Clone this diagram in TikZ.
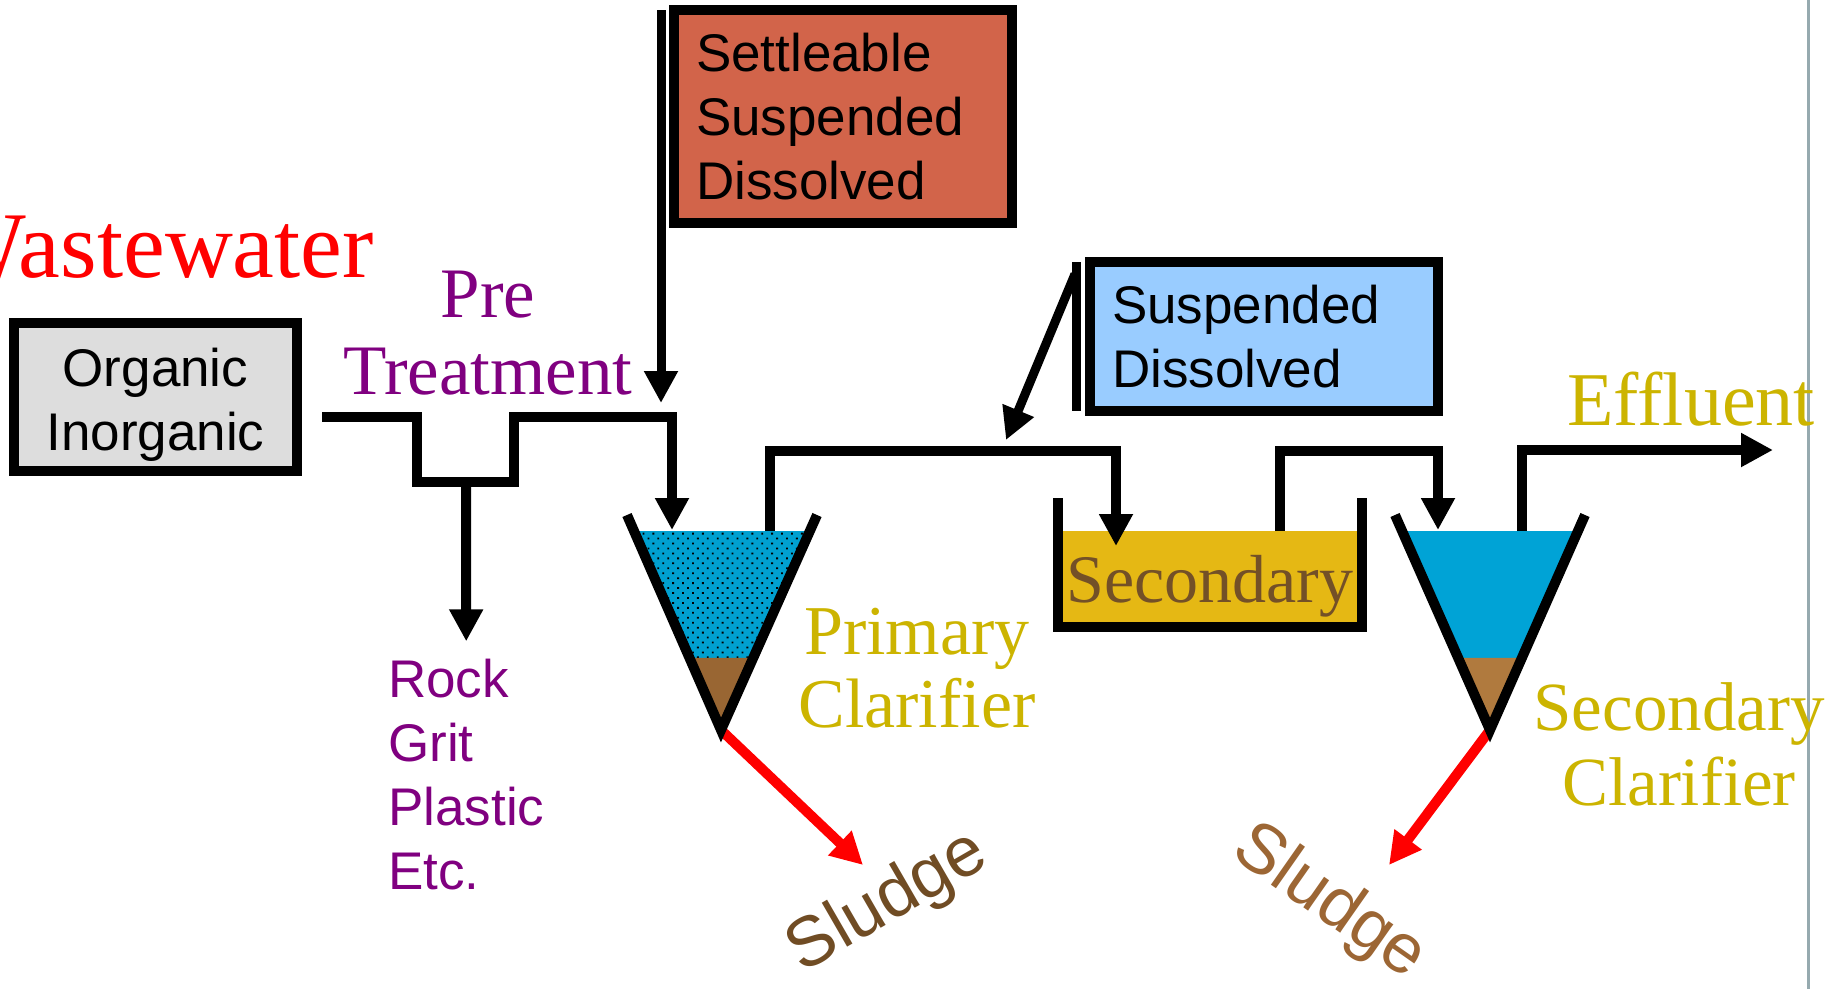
\documentclass[tikz,border=0pt]{standalone}
\usepackage{fontspec}
\setmainfont{Liberation Serif}
\setsansfont{Liberation Sans}
\usepackage{xcolor}
\usetikzlibrary{arrows.meta,calc,patterns.meta}
\definecolor{boxgray}{RGB}{221,221,221}
\definecolor{brick}{RGB}{210,100,74}
\definecolor{sky}{RGB}{153,204,255}
\definecolor{water}{RGB}{0,160,208}
\definecolor{water2}{RGB}{0,163,214}
\definecolor{sedim}{RGB}{153,102,51}
\definecolor{sedim2}{RGB}{176,122,62}
\definecolor{gold}{RGB}{229,184,20}
\definecolor{goldtext}{RGB}{204,180,0}
\definecolor{tanktext}{RGB}{115,80,39}
\definecolor{mudA}{RGB}{112,76,36}
\definecolor{mudB}{RGB}{156,102,52}
\definecolor{plum}{RGB}{128,0,128}
\definecolor{edgegray}{RGB}{150,170,175}

\begin{document}
\begin{tikzpicture}[x=1pt,y=-1pt,box/.style={draw,line width=10pt,fill=#1,inner sep=0pt,outer sep=0pt,font=\sffamily\fontsize{53}{64}\selectfont},wall/.style={line width=10pt},pipe/.style={line width=10pt,-{Triangle[length=32pt,width=32pt]}},tag/.style={inner sep=0pt,text=#1}]
\useasboundingbox (0,0) rectangle (1833,989);
\clip (0,0) rectangle (1833,989);
\draw[line width=3pt,edgegray] (1808,0) -- (1808,989);
\coordinate (pt-in) at (322,417);
\coordinate (grit-out) at (466,482);
\coordinate (pc-in) at (672,530);
\coordinate (pc-out) at (770,531);
\coordinate (pc-l) at (627,515);
\coordinate (pc-r) at (817,515);
\coordinate (pc-b) at (721,730);
\coordinate (tank-l) at (1058,498);
\coordinate (tank-r) at (1362,498);
\coordinate (tank-in) at (1116,546);
\coordinate (tank-out) at (1280,531);
\coordinate (sc-l) at (1395,515);
\coordinate (sc-r) at (1585,515);
\coordinate (sc-b) at (1490,730);
\coordinate (sc-in) at (1438,530);
\coordinate (sc-out) at (1522,531);
\coordinate (eff) at (1773,450);
\coordinate (drop1) at (661,403);
\coordinate (drop2) at (1006,440);
\coordinate (sludge1) at (863,865);
\coordinate (sludge2) at (1389,865);
\node[box=boxgray,minimum width=283pt,minimum height=148pt,align=center] (raw) at (155.5,397) {\rule{0pt}{54pt}Organic\\Inorganic};
\node[box=brick,minimum width=338pt,minimum height=213pt,text width=294pt,align=left] (solids) at (843,116.5) {Settleable\\Suspended\\Dissolved};
\node[box=sky,minimum width=348pt,minimum height=149pt,text width=304pt,align=left] (susp) at (1264,336.5) {Suspended\\Dissolved};
\node[tag=red,font=\fontsize{94}{100}\selectfont,anchor=base east] (title) at (374,277) {Wastewater};
\node[tag=plum,font=\fontsize{71}{77}\selectfont,align=center] (pre) at (488,333.5) {Pre\\Treatment};
\node[tag=plum,font=\sffamily\fontsize{53}{64}\selectfont,align=left,anchor=west] (junk) at (388,775) {Rock\\Grit\\Plastic\\Etc.};
\node[tag=goldtext,font=\fontsize{70}{73}\selectfont,align=center] (pclab) at (917,668.5) {Primary\\Clarifier};
\node[tag=goldtext,font=\fontsize{69}{75}\selectfont,align=center] (sclab) at (1679,744) {Secondary\\Clarifier};
\node[tag=goldtext,font=\fontsize{76}{80}\selectfont,anchor=base] (efflab) at (1691,425) {Effluent};
\path[pattern={Dots[distance=7pt,radius=1.3pt,angle=45]},pattern color=black,preaction={fill=water}] ($(pc-l)!.0744!(pc-b)$) -- ($(pc-r)!.0744!(pc-b)$) -- ($(pc-r)!.665!(pc-b)$) -- ($(pc-l)!.665!(pc-b)$) -- cycle;
\fill[sedim] ($(pc-l)!.665!(pc-b)$) -- ($(pc-r)!.665!(pc-b)$) -- (pc-b) -- cycle;
\fill[water2] ($(sc-l)!.0744!(sc-b)$) -- ($(sc-r)!.0744!(sc-b)$) -- ($(sc-r)!.665!(sc-b)$) -- ($(sc-l)!.665!(sc-b)$) -- cycle;
\fill[sedim2] ($(sc-l)!.665!(sc-b)$) -- ($(sc-r)!.665!(sc-b)$) -- (sc-b) -- cycle;
\fill[gold] ($(tank-l)+(0,33)$) rectangle ($(tank-r)+(0,129)$);
\node[tag=tanktext,font=\fontsize{68}{72}\selectfont,anchor=base] (seclab) at (1210,602) {Secondary};
\draw[pipe,red] (pc-b) -- (sludge1);
\draw[pipe,red] (sc-b) -- (sludge2);
\draw[wall] (pc-l) -- (pc-b) -- (pc-r);
\draw[wall] (sc-l) -- (sc-b) -- (sc-r);
\draw[wall] (tank-l) -- ++(0,129) -| (tank-r);
\draw[pipe] (pt-in) -- ++(95,0) -- ++(0,65) -- ++(97,0) -- ++(0,-65) -| (pc-in);
\draw[pipe,shorten >=18pt] (grit-out) -- (junk.north);
\draw[pipe] (pc-out) -- ++(0,-80) -| (tank-in);
\draw[pipe] (tank-out) -- ++(0,-80) -| (sc-in);
\draw[pipe] (sc-out) |- (eff);
\draw[pipe,line width=9pt] ([xshift=-13pt]solids.north west) -- (drop1);
\draw[line width=9pt] ([xshift=-14pt]susp.north west) -- ([xshift=-14pt]susp.south west);
\draw[pipe,line width=9pt] ([xshift=-15pt,yshift=-12pt]susp.north west) -- (drop2);
\node[tag=mudA,font=\sffamily\fontsize{70}{72}\selectfont,rotate=30] (sl1) at (888,903) {Sludge};
\node[tag=mudB,font=\sffamily\fontsize{70}{72}\selectfont,rotate=-35] (sl2) at (1329,903) {Sludge};
\end{tikzpicture}
\end{document}
